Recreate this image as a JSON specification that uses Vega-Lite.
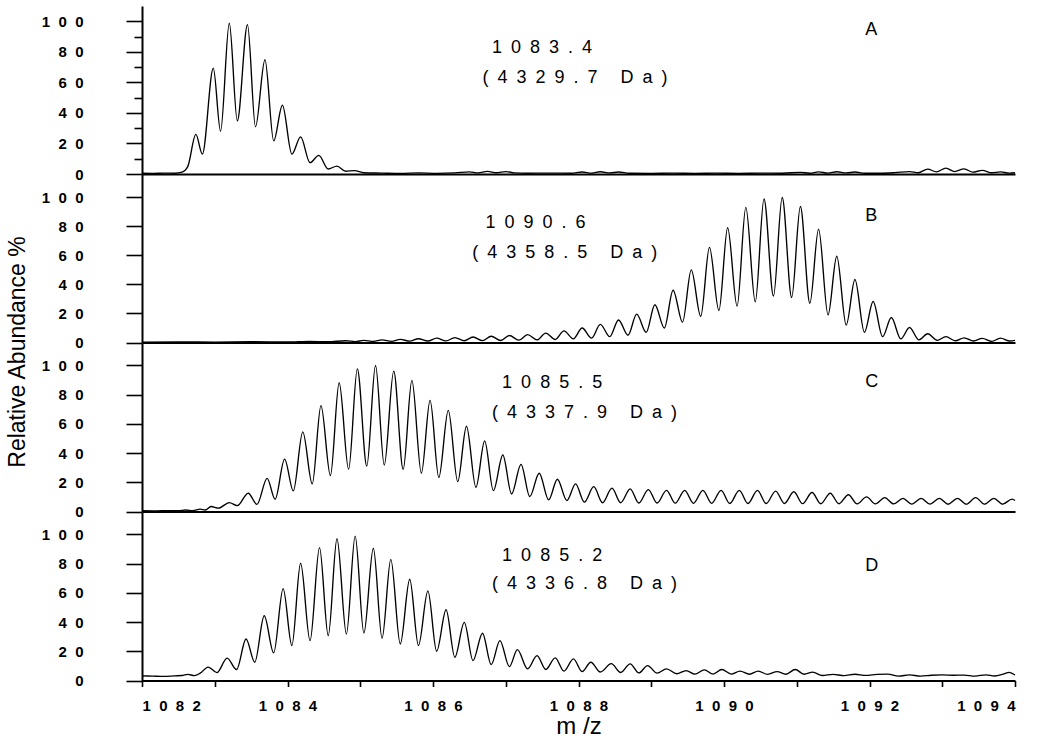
{
  "$schema": "https://vega.github.io/schema/vega-lite/v6.json",
  "padding": {"left": 5, "top": 6, "right": 4, "bottom": 4},
  "spacing": 0,
  "bounds": "flush",
  "config": {
    "view": {"stroke": null},
    "font": "Liberation Sans",
    "axis": {
      "grid": false,
      "domainColor": "black",
      "domainWidth": 2,
      "tickColor": "black",
      "tickWidth": 1.6,
      "labelColor": "black",
      "labelFont": "Liberation Sans",
      "labelFontSize": 15,
      "labelFontWeight": "bold",
      "labelOverlap": false,
      "labelBound": false,
      "titleColor": "black",
      "titleFont": "Liberation Sans",
      "titleFontWeight": "normal"
    },
    "text": {"font": "Liberation Sans", "fontSize": 18, "color": "black", "align": "left", "baseline": "middle"}
  },
  "datasets": {
    "notes": [
      {"panel": "A", "mz": 1086.81, "ab": 82.4, "label": "1083.4"},
      {"panel": "A", "mz": 1086.68, "ab": 62.7, "label": "(4329.7 Da)"},
      {"panel": "A", "mz": 1091.94, "ab": 94.1, "label": "A"},
      {"panel": "B", "mz": 1086.72, "ab": 82.3, "label": "1090.6"},
      {"panel": "B", "mz": 1086.54, "ab": 61.6, "label": "(4358.5 Da)"},
      {"panel": "B", "mz": 1091.94, "ab": 87.1, "label": "B"},
      {"panel": "C", "mz": 1086.95, "ab": 87.7, "label": "1085.5"},
      {"panel": "C", "mz": 1086.81, "ab": 67.8, "label": "(4337.9 Da)"},
      {"panel": "C", "mz": 1091.94, "ab": 89.0, "label": "C"},
      {"panel": "D", "mz": 1086.95, "ab": 85.2, "label": "1085.2"},
      {"panel": "D", "mz": 1086.81, "ab": 66.0, "label": "(4336.8 Da)"},
      {"panel": "D", "mz": 1091.94, "ab": 78.3, "label": "D"}
    ],
    "specA": [
      {"mz":1082.0,"ab":0.5},{"mz":1082.15,"ab":0.4},{"mz":1082.3,"ab":0.6},{"mz":1082.45,"ab":0.5},{"mz":1082.55,"ab":1.2},{"mz":1082.63,"ab":5},
      {"mz":1082.74,"ab":25.9},{"mz":1082.83,"ab":13},{"mz":1082.98,"ab":69.3},{"mz":1083.08,"ab":28},{"mz":1083.2,"ab":98.7},{"mz":1083.31,"ab":34.8},
      {"mz":1083.45,"ab":97.8},{"mz":1083.56,"ab":30.9},{"mz":1083.69,"ab":74.8},{"mz":1083.81,"ab":21.7},{"mz":1083.93,"ab":45},{"mz":1084.06,"ab":13},
      {"mz":1084.18,"ab":24.3},{"mz":1084.31,"ab":7.4},{"mz":1084.43,"ab":12.2},{"mz":1084.56,"ab":3.3},{"mz":1084.68,"ab":5.2},{"mz":1084.8,"ab":1.8},
      {"mz":1084.92,"ab":2.2},{"mz":1085.05,"ab":0.8},{"mz":1085.3,"ab":0.6},{"mz":1085.55,"ab":0.4},{"mz":1085.8,"ab":0.7},{"mz":1086.05,"ab":0.4},
      {"mz":1086.3,"ab":0.7},{"mz":1086.5,"ab":1.4},{"mz":1086.62,"ab":0.7},{"mz":1086.75,"ab":1.7},{"mz":1086.87,"ab":0.8},{"mz":1087.0,"ab":1.6},
      {"mz":1087.12,"ab":0.7},{"mz":1087.3,"ab":0.5},{"mz":1087.6,"ab":0.6},{"mz":1087.9,"ab":0.5},{"mz":1088.05,"ab":1.3},{"mz":1088.18,"ab":0.6},
      {"mz":1088.3,"ab":1.5},{"mz":1088.43,"ab":0.7},{"mz":1088.55,"ab":1.3},{"mz":1088.7,"ab":0.5},{"mz":1089.0,"ab":0.4},{"mz":1089.3,"ab":0.6},
      {"mz":1089.6,"ab":0.4},{"mz":1089.9,"ab":0.6},{"mz":1090.2,"ab":0.4},{"mz":1090.5,"ab":0.6},{"mz":1090.8,"ab":0.5},{"mz":1091.05,"ab":1.1},
      {"mz":1091.18,"ab":0.5},{"mz":1091.3,"ab":1.4},{"mz":1091.43,"ab":0.6},{"mz":1091.55,"ab":1.5},{"mz":1091.68,"ab":0.7},{"mz":1091.8,"ab":1.3},
      {"mz":1091.93,"ab":0.5},{"mz":1092.15,"ab":0.5},{"mz":1092.35,"ab":0.9},{"mz":1092.55,"ab":1.6},{"mz":1092.67,"ab":0.8},{"mz":1092.8,"ab":3.2},
      {"mz":1092.92,"ab":1.4},{"mz":1093.05,"ab":3.8},{"mz":1093.17,"ab":1.6},{"mz":1093.3,"ab":3.4},{"mz":1093.42,"ab":1.2},{"mz":1093.55,"ab":2.4},
      {"mz":1093.68,"ab":0.8},{"mz":1093.8,"ab":1.4},{"mz":1093.92,"ab":0.6},{"mz":1094.0,"ab":0.8}
    ],
    "specB": [
      {"mz":1082.0,"ab":0.3},{"mz":1082.5,"ab":0.4},{"mz":1083.0,"ab":0.3},{"mz":1083.5,"ab":0.5},{"mz":1084.0,"ab":0.4},{"mz":1084.3,"ab":0.8},
      {"mz":1084.55,"ab":0.5},{"mz":1084.8,"ab":1.2},{"mz":1084.93,"ab":0.6},{"mz":1085.05,"ab":1.5},{"mz":1085.18,"ab":0.7},{"mz":1085.3,"ab":1.8},
      {"mz":1085.43,"ab":0.8},{"mz":1085.55,"ab":2.2},{"mz":1085.68,"ab":0.9},{"mz":1085.8,"ab":2.6},{"mz":1085.93,"ab":1.0},{"mz":1086.05,"ab":3.0},
      {"mz":1086.18,"ab":1.1},{"mz":1086.3,"ab":3.4},{"mz":1086.43,"ab":1.2},{"mz":1086.55,"ab":3.8},{"mz":1086.68,"ab":1.3},{"mz":1086.8,"ab":4.3},
      {"mz":1086.93,"ab":1.4},{"mz":1087.05,"ab":4.8},{"mz":1087.18,"ab":1.6},{"mz":1087.3,"ab":5.4},{"mz":1087.43,"ab":1.8},{"mz":1087.55,"ab":6.5},
      {"mz":1087.68,"ab":2.0},{"mz":1087.8,"ab":8.0},{"mz":1087.93,"ab":2.5},{"mz":1088.05,"ab":10},{"mz":1088.18,"ab":3.0},{"mz":1088.3,"ab":12.5},
      {"mz":1088.43,"ab":4.0},{"mz":1088.55,"ab":15.5},{"mz":1088.68,"ab":5.0},{"mz":1088.8,"ab":19.5},{"mz":1088.93,"ab":7.0},{"mz":1089.05,"ab":26},
      {"mz":1089.18,"ab":10},{"mz":1089.3,"ab":36},{"mz":1089.43,"ab":14},{"mz":1089.55,"ab":50},{"mz":1089.68,"ab":18},{"mz":1089.8,"ab":65.5},
      {"mz":1089.93,"ab":22},{"mz":1090.05,"ab":79},{"mz":1090.18,"ab":25},{"mz":1090.3,"ab":93},{"mz":1090.43,"ab":28},{"mz":1090.55,"ab":98.8},
      {"mz":1090.68,"ab":32},{"mz":1090.8,"ab":99.8},{"mz":1090.93,"ab":31},{"mz":1091.05,"ab":93.6},{"mz":1091.18,"ab":27},{"mz":1091.3,"ab":78},
      {"mz":1091.43,"ab":19},{"mz":1091.55,"ab":59.4},{"mz":1091.68,"ab":12},{"mz":1091.8,"ab":43.4},{"mz":1091.93,"ab":7},{"mz":1092.05,"ab":28.2},
      {"mz":1092.18,"ab":4},{"mz":1092.3,"ab":17.2},{"mz":1092.43,"ab":2.5},{"mz":1092.55,"ab":10.3},{"mz":1092.68,"ab":1.8},{"mz":1092.8,"ab":6},
      {"mz":1092.93,"ab":1.5},{"mz":1093.05,"ab":4},{"mz":1093.18,"ab":1.2},{"mz":1093.3,"ab":3.2},{"mz":1093.43,"ab":1.0},{"mz":1093.55,"ab":2.8},
      {"mz":1093.68,"ab":0.8},{"mz":1093.8,"ab":3.0},{"mz":1093.93,"ab":1.0},{"mz":1094.0,"ab":1.5}
    ],
    "specC": [
      {"mz":1082.0,"ab":0.5},{"mz":1082.2,"ab":0.4},{"mz":1082.35,"ab":0.6},{"mz":1082.5,"ab":0.5},{"mz":1082.6,"ab":1.0},{"mz":1082.7,"ab":0.6},
      {"mz":1082.8,"ab":1.6},{"mz":1082.87,"ab":1.0},{"mz":1082.95,"ab":3.4},{"mz":1083.05,"ab":2.3},{"mz":1083.2,"ab":6.1},{"mz":1083.31,"ab":4.0},
      {"mz":1083.46,"ab":12.5},{"mz":1083.58,"ab":4.9},{"mz":1083.72,"ab":22.7},{"mz":1083.83,"ab":8.4},{"mz":1083.96,"ab":35.9},{"mz":1084.08,"ab":14.1},
      {"mz":1084.21,"ab":54.5},{"mz":1084.34,"ab":18.9},{"mz":1084.46,"ab":72.5},{"mz":1084.59,"ab":24.6},{"mz":1084.71,"ab":88.2},{"mz":1084.84,"ab":28.9},
      {"mz":1084.96,"ab":97.7},{"mz":1085.09,"ab":31.1},{"mz":1085.21,"ab":100},{"mz":1085.33,"ab":31.8},{"mz":1085.46,"ab":96.1},{"mz":1085.59,"ab":28.9},
      {"mz":1085.71,"ab":89.8},{"mz":1085.84,"ab":26.2},{"mz":1085.96,"ab":76.1},{"mz":1086.08,"ab":23.3},{"mz":1086.21,"ab":69.3},{"mz":1086.34,"ab":20.5},
      {"mz":1086.46,"ab":58.4},{"mz":1086.59,"ab":16.6},{"mz":1086.71,"ab":48.4},{"mz":1086.83,"ab":14.3},{"mz":1086.96,"ab":38.7},{"mz":1087.08,"ab":12.0},
      {"mz":1087.21,"ab":32.3},{"mz":1087.33,"ab":10.2},{"mz":1087.46,"ab":26.2},{"mz":1087.59,"ab":8.0},{"mz":1087.71,"ab":22.1},{"mz":1087.84,"ab":7.5},
      {"mz":1087.96,"ab":18.9},{"mz":1088.08,"ab":6.4},{"mz":1088.21,"ab":17.0},{"mz":1088.33,"ab":6.0},{"mz":1088.46,"ab":16},{"mz":1088.58,"ab":6.0},
      {"mz":1088.71,"ab":15.5},{"mz":1088.83,"ab":5.8},{"mz":1088.96,"ab":15},{"mz":1089.08,"ab":5.8},{"mz":1089.21,"ab":14.5},{"mz":1089.33,"ab":5.7},
      {"mz":1089.46,"ab":14.5},{"mz":1089.58,"ab":5.6},{"mz":1089.71,"ab":14.5},{"mz":1089.83,"ab":5.6},{"mz":1089.96,"ab":14.5},{"mz":1090.08,"ab":5.5},
      {"mz":1090.21,"ab":14.5},{"mz":1090.33,"ab":5.5},{"mz":1090.46,"ab":14.5},{"mz":1090.58,"ab":5.5},{"mz":1090.71,"ab":14},{"mz":1090.83,"ab":5.5},
      {"mz":1090.96,"ab":13.5},{"mz":1091.08,"ab":5.4},{"mz":1091.21,"ab":13},{"mz":1091.33,"ab":5.3},{"mz":1091.46,"ab":12.5},{"mz":1091.58,"ab":5.3},
      {"mz":1091.71,"ab":11.5},{"mz":1091.83,"ab":5.2},{"mz":1091.96,"ab":10},{"mz":1092.08,"ab":5.2},{"mz":1092.21,"ab":9.5},{"mz":1092.33,"ab":5.2},
      {"mz":1092.46,"ab":9},{"mz":1092.58,"ab":5.1},{"mz":1092.71,"ab":9},{"mz":1092.83,"ab":5.1},{"mz":1092.96,"ab":9},{"mz":1093.08,"ab":5.0},
      {"mz":1093.21,"ab":9},{"mz":1093.33,"ab":5.0},{"mz":1093.46,"ab":9.5},{"mz":1093.58,"ab":5.0},{"mz":1093.71,"ab":9},{"mz":1093.83,"ab":5.0},
      {"mz":1093.96,"ab":8.5},{"mz":1094.0,"ab":7.5}
    ],
    "specD": [
      {"mz":1082.0,"ab":3.2},{"mz":1082.15,"ab":3.0},{"mz":1082.3,"ab":2.8},{"mz":1082.45,"ab":3.2},{"mz":1082.55,"ab":3.4},{"mz":1082.63,"ab":4.2},
      {"mz":1082.72,"ab":3.3},{"mz":1082.8,"ab":5},{"mz":1082.91,"ab":9.2},{"mz":1083.03,"ab":5.4},{"mz":1083.17,"ab":15.3},{"mz":1083.3,"ab":7.5},
      {"mz":1083.43,"ab":28.4},{"mz":1083.55,"ab":12.5},{"mz":1083.68,"ab":44.3},{"mz":1083.81,"ab":18.9},{"mz":1083.94,"ab":62.9},{"mz":1084.06,"ab":23.9},
      {"mz":1084.18,"ab":80.2},{"mz":1084.31,"ab":27.3},{"mz":1084.44,"ab":90.9},{"mz":1084.56,"ab":30.7},{"mz":1084.68,"ab":97},{"mz":1084.81,"ab":31.8},
      {"mz":1084.93,"ab":98.8},{"mz":1085.05,"ab":32.5},{"mz":1085.18,"ab":90.5},{"mz":1085.3,"ab":28.9},{"mz":1085.42,"ab":82.9},{"mz":1085.55,"ab":25},
      {"mz":1085.68,"ab":69.3},{"mz":1085.8,"ab":23.9},{"mz":1085.93,"ab":61.3},{"mz":1086.05,"ab":20},{"mz":1086.18,"ab":48.4},{"mz":1086.3,"ab":15.9},
      {"mz":1086.43,"ab":39.8},{"mz":1086.55,"ab":13.6},{"mz":1086.68,"ab":32.3},{"mz":1086.8,"ab":10.9},{"mz":1086.92,"ab":27.3},{"mz":1087.05,"ab":9.5},
      {"mz":1087.16,"ab":21.1},{"mz":1087.3,"ab":8},{"mz":1087.43,"ab":17},{"mz":1087.55,"ab":7.5},{"mz":1087.68,"ab":15.5},{"mz":1087.8,"ab":6.4},
      {"mz":1087.93,"ab":14.8},{"mz":1088.05,"ab":6.1},{"mz":1088.17,"ab":12.5},{"mz":1088.3,"ab":5.8},{"mz":1088.45,"ab":11.5},{"mz":1088.58,"ab":5.5},
      {"mz":1088.71,"ab":11.4},{"mz":1088.83,"ab":5.2},{"mz":1088.95,"ab":10.2},{"mz":1089.08,"ab":5.0},{"mz":1089.21,"ab":8.0},{"mz":1089.35,"ab":4.6},
      {"mz":1089.48,"ab":6.8},{"mz":1089.6,"ab":4.4},{"mz":1089.73,"ab":7.3},{"mz":1089.85,"ab":4.4},{"mz":1089.97,"ab":7.5},{"mz":1090.1,"ab":4.4},
      {"mz":1090.22,"ab":6.4},{"mz":1090.35,"ab":4.3},{"mz":1090.47,"ab":6.4},{"mz":1090.6,"ab":4.2},{"mz":1090.73,"ab":6.1},{"mz":1090.85,"ab":4.3},
      {"mz":1090.98,"ab":7.5},{"mz":1091.1,"ab":4.3},{"mz":1091.22,"ab":5.7},{"mz":1091.35,"ab":3.4},{"mz":1091.5,"ab":4.2},{"mz":1091.65,"ab":3.3},
      {"mz":1091.8,"ab":4.3},{"mz":1091.95,"ab":3.5},{"mz":1092.1,"ab":4.2},{"mz":1092.25,"ab":4.4},{"mz":1092.4,"ab":3.0},{"mz":1092.55,"ab":3.8},
      {"mz":1092.7,"ab":3.0},{"mz":1092.85,"ab":3.6},{"mz":1093.0,"ab":3.8},{"mz":1093.15,"ab":3.6},{"mz":1093.3,"ab":3.7},{"mz":1093.45,"ab":3.0},
      {"mz":1093.6,"ab":3.9},{"mz":1093.72,"ab":3.1},{"mz":1093.85,"ab":4.6},{"mz":1093.92,"ab":5.6},{"mz":1094.0,"ab":3.8}
    ]
  },
  "vconcat": [
    {
      "width": 873, "height": 168,
      "encoding": {
        "x": {"field": "mz", "type": "quantitative", "scale": {"domain": [1082, 1094], "nice": false, "zero": false},
              "axis": {"title": null, "labels": false, "ticks": false, "domain": true}},
        "y": {"field": "ab", "type": "quantitative", "scale": {"domain": [0, 110], "nice": false},
              "axis": {"title": null, "values": [0, 10, 20, 30, 40, 50, 60, 70, 80, 90, 100],
                       "tickSize": {"condition": {"test": "datum.value % 20 === 0", "value": 16}, "value": 8},
                       "labelPadding": 43,
                       "labelExpr": "datum.value % 20 === 0 ? join(split(datum.label, ''), '\u00a0\u00a0') : ''"}}
      },
      "layer": [
        {"data": {"name": "specA"}, "mark": {"type": "line", "interpolate": "monotone", "color": "black", "strokeWidth": 1.35}},
        {
          "data": {"name": "notes"},
          "transform": [{"filter": "datum.panel === 'A'"}, {"calculate": "join(split(datum.label, ''), '\u2002')", "as": "txt"}],
          "mark": {"type": "text"},
          "encoding": {"text": {"field": "txt"}}
        }
      ]
    },
    {
      "width": 873, "height": 168.5,
      "encoding": {
        "x": {"field": "mz", "type": "quantitative", "scale": {"domain": [1082, 1094], "nice": false, "zero": false},
              "axis": {"title": null, "labels": false, "ticks": false, "domain": true}},
        "y": {"field": "ab", "type": "quantitative", "scale": {"domain": [0, 116], "nice": false},
              "axis": {"title": "Relative Abundance %", "titleFontSize": 23, "titleX": -125, "titleY": 177.5, "titleAngle": -90,
                       "titleAlign": "center", "titleBaseline": "middle",
                       "values": [0, 20, 40, 60, 80, 100], "tickSize": 16, "labelPadding": 43,
                       "labelExpr": "join(split(datum.label, ''), '\u00a0\u00a0')"}}
      },
      "layer": [
        {"data": {"name": "specB"}, "mark": {"type": "line", "interpolate": "monotone", "color": "black", "strokeWidth": 1.35}},
        {
          "data": {"name": "notes"},
          "transform": [{"filter": "datum.panel === 'B'"}, {"calculate": "join(split(datum.label, ''), '\u2002')", "as": "txt"}],
          "mark": {"type": "text"},
          "encoding": {"text": {"field": "txt"}}
        }
      ]
    },
    {
      "width": 873, "height": 168.5,
      "encoding": {
        "x": {"field": "mz", "type": "quantitative", "scale": {"domain": [1082, 1094], "nice": false, "zero": false},
              "axis": {"title": null, "labels": false, "ticks": false, "domain": true}},
        "y": {"field": "ab", "type": "quantitative", "scale": {"domain": [0, 115.4], "nice": false},
              "axis": {"title": null, "values": [0, 20, 40, 60, 80, 100], "tickSize": 16, "labelPadding": 43,
                       "labelExpr": "join(split(datum.label, ''), '\u00a0\u00a0')"}}
      },
      "layer": [
        {"data": {"name": "specC"}, "mark": {"type": "line", "interpolate": "monotone", "color": "black", "strokeWidth": 1.35}},
        {
          "data": {"name": "notes"},
          "transform": [{"filter": "datum.panel === 'C'"}, {"calculate": "join(split(datum.label, ''), '\u2002')", "as": "txt"}],
          "mark": {"type": "text"},
          "encoding": {"text": {"field": "txt"}}
        }
      ]
    },
    {
      "width": 873, "height": 168.5,
      "encoding": {
        "x": {"field": "mz", "type": "quantitative", "scale": {"domain": [1082, 1094], "nice": false, "zero": false},
              "axis": {"title": "m /z", "titleFontSize": 24, "titlePadding": 1, "format": "d",
                       "values": [1082, 1083, 1084, 1085, 1086, 1087, 1088, 1089, 1090, 1091, 1092, 1093, 1094],
                       "tickSize": 6, "labelPadding": 12,
                       "labelExpr": "datum.value % 2 === 0 ? join(split(datum.label, ''), '\u00a0\u00a0') : ''"}},
        "y": {"field": "ab", "type": "quantitative", "scale": {"domain": [0, 115.3], "nice": false},
              "axis": {"title": null, "values": [0, 20, 40, 60, 80, 100], "tickSize": 16, "labelPadding": 43,
                       "labelExpr": "join(split(datum.label, ''), '\u00a0\u00a0')"}}
      },
      "layer": [
        {"data": {"name": "specD"}, "mark": {"type": "line", "interpolate": "monotone", "color": "black", "strokeWidth": 1.35}},
        {
          "data": {"name": "notes"},
          "transform": [{"filter": "datum.panel === 'D'"}, {"calculate": "join(split(datum.label, ''), '\u2002')", "as": "txt"}],
          "mark": {"type": "text"},
          "encoding": {"text": {"field": "txt"}}
        }
      ]
    }
  ]
}
